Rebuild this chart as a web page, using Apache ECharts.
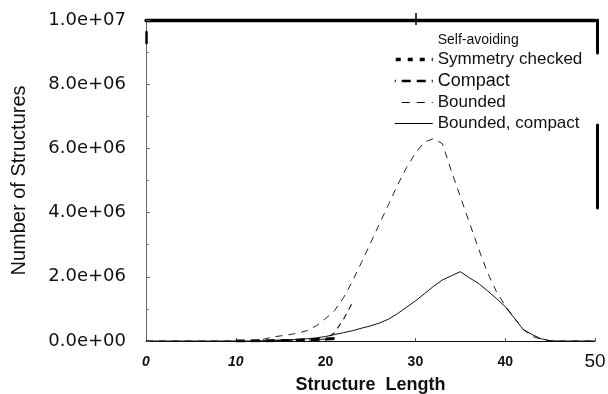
<!DOCTYPE html>
<html><head><meta charset="utf-8">
<script src="https://cdn.jsdelivr.net/npm/echarts@6/dist/echarts.min.js"></script>
<style>html,body{margin:0;padding:0;background:#fff}#c{width:608px;height:394px}</style>
</head><body><div id="c"></div>
<script>
// Structure length (x)
const lengths = [0,1,2,3,4,5,6,7,8,9,10,11,12,13,14,15,16,17,18,19,20,21,22,23,24,25,26,27,28,29,30,31,32,33,34,35,36,37,38,39,40,41,42,43,44,45,46,47,48,49,50];
// Number of structures, in millions (null = not drawn)
const selfAvoiding = [];
const symmetryChecked = [null,null,null,null,null,null,null,null,null,null,null,null,0,0.005,0.01,0.01,0.015,0.02,0.03,0.04,0.06,0.26,0.68,1.2,null,null,null,null,null,null,null,null,null,null,null,null,null,null,null,null,null,null,null,null,null,null,null,null,null,null,null];
const compact = [null,null,null,null,null,null,null,null,null,null,0,0,0.005,0.01,0.01,0.015,0.02,0.03,0.04,0.05,0.06,0.08,null,null,null,null,null,null,null,null,null,null,null,null,null,null,null,null,null,null,null,null,null,null,null,null,null,null,null,null,null];
const bounded = [0,0,0,0,0,0,0,0,0,0,0,0,0,0.05,0.12,0.16,0.2,0.25,0.33,0.48,0.7,0.95,1.35,1.87,2.45,3.05,3.65,4.25,4.85,5.4,5.85,6.2,6.3,6.15,5.3,4.5,3.7,2.9,2.15,1.55,1.1,0.72,0.36,0.15,0.05,0.01,0,0,0,0,0];
const boundedCompact = [0,0,0,0,0,0,0,0,0,0,0,0,0,0.01,0.02,0.03,0.04,0.05,0.07,0.1,0.14,0.2,0.26,0.32,0.4,0.47,0.56,0.68,0.85,1.05,1.25,1.47,1.7,1.9,2.03,2.16,1.97,1.8,1.57,1.33,1.07,0.72,0.36,0.2,0.07,0.01,0,0,0,0,0];
// Tick labels
const xTickValues = [0,10,20,30,40,50];
const xTickLabels = ['0','10','20','30','40','50'];
const yTickValues = [0,2,4,6,8,10];
const yTickLabels = ['0.0e+00','2.0e+06','4.0e+06','6.0e+06','8.0e+06','1.0e+07'];
const seriesNames = ['Self-avoiding','Symmetry checked','Compact','Bounded','Bounded, compact'];

function pairs(arr){
  const out=[];
  arr.forEach((v,i)=>{ if(v!==null && v!==undefined) out.push([lengths[i], v]); });
  return out;
}

const chart = echarts.init(document.getElementById('c'), null, {renderer:'canvas'});
const F = 'Liberation Sans, Arial, sans-serif';
const rich = {
  s0:{fontFamily:F,fontSize:14,fontStyle:'italic',fontWeight:'bold',color:'#111',lineHeight:20},
  s1:{fontFamily:F,fontSize:14,fontStyle:'italic',fontWeight:'bold',color:'#111',lineHeight:20},
  s2:{fontFamily:F,fontSize:14,fontWeight:'bold',color:'#111',lineHeight:20},
  s3:{fontFamily:F,fontSize:14,fontWeight:'bold',color:'#111',lineHeight:20},
  s4:{fontFamily:F,fontSize:14,fontWeight:'bold',color:'#111',lineHeight:20},
  s5:{fontFamily:F,fontSize:19,color:'#111',lineHeight:20}
};
const noSplit = {show:false};
const gridRect = {left:146,right:13,top:20,bottom:53,containLabel:false,outerBoundsMode:'none'};
const option = {
  animation:false,
  backgroundColor:'#fff',
  grid:[Object.assign({},gridRect), Object.assign({},gridRect)],
  legend:{
    orient:'vertical', left:393, top:33, padding:0, itemWidth:38, itemHeight:16, itemGap:4,
    selectedMode:false,
    itemStyle:{opacity:0},
    textStyle:{color:'#111',fontFamily:F,fontSize:17},
    data:[
      {name:seriesNames[0], itemStyle:{opacity:0}, lineStyle:{opacity:0}, textStyle:{fontSize:14}},
      {name:seriesNames[1], textStyle:{fontSize:17}, lineStyle:{color:'#000',width:3.5,type:[5,7]}},
      {name:seriesNames[2], textStyle:{fontSize:18}, lineStyle:{color:'#000',width:2.5,type:[9,6]}},
      {name:seriesNames[3], textStyle:{fontSize:17}, lineStyle:{color:'#000',width:1,type:[8,7]}},
      {name:seriesNames[4], textStyle:{fontSize:17}, lineStyle:{color:'#000',width:1,type:'solid'}}
    ]
  },
  xAxis:[
    {type:'value',gridIndex:0,position:'bottom',min:0,max:50,interval:10,
     name:'Structure  Length',nameLocation:'middle',nameGap:34,
     nameTextStyle:{fontFamily:F,fontSize:18,fontWeight:'bold',color:'#111'},
     axisLine:{show:true,onZero:false,lineStyle:{color:'#111',width:1}},
     axisTick:{show:true,inside:true,length:3,lineStyle:{color:'#555'}},
     axisLabel:{margin:11,formatter:v=>{const i=xTickValues.indexOf(v);return '{s'+i+'|'+xTickLabels[i]+'}';},rich:rich},
     splitLine:noSplit},
    {type:'value',gridIndex:0,position:'top',min:0,max:50,
     axisLine:{show:true,onZero:false,lineStyle:{color:'#000',width:3.3}},
     axisTick:{show:true,inside:true,length:5,customValues:[30],lineStyle:{color:'#000',width:1.5}},
     axisLabel:{show:false},splitLine:noSplit},
    {type:'value',gridIndex:1,position:'top',min:0,max:50,
     axisLine:{show:false,onZero:false},
     axisTick:{show:true,inside:false,length:7,customValues:[30],lineStyle:{color:'#000',width:1.5}},
     axisLabel:{show:false},splitLine:noSplit}
  ],
  yAxis:[
    {type:'value',gridIndex:0,position:'left',min:0,max:10,interval:2,
     name:'Number of Structures',nameLocation:'middle',nameGap:117,nameRotate:90,
     nameTextStyle:{fontFamily:F,fontSize:20,color:'#111'},
     axisLine:{show:true,onZero:false,lineStyle:{color:'#666',width:1}},
     axisTick:{show:true,inside:true,length:4,lineStyle:{color:'#666'}},
     minorTick:{show:true,splitNumber:2,length:3,lineStyle:{color:'#888'}},
     axisLabel:{margin:20,fontFamily:'DejaVu Sans',fontSize:18,color:'#111',
       formatter:v=>yTickLabels[yTickValues.indexOf(v)]},
     splitLine:noSplit},
    {type:'value',gridIndex:0,position:'right',min:0,max:10,offset:2,
     axisLine:{show:true,onZero:false,lineStyle:{color:'#000',width:3,type:[83,72,33,133],dashOffset:188}},
     axisTick:{show:false},axisLabel:{show:false},splitLine:noSplit},
    {type:'value',gridIndex:1,position:'left',min:0,max:10,
     axisLine:{show:true,onZero:false,lineStyle:{color:'#000',width:2.5,type:[11,310],dashOffset:23}},
     axisTick:{show:false},axisLabel:{show:false},splitLine:noSplit}
  ],
  series:[
    {name:seriesNames[0],type:'line',symbol:'none',data:pairs(selfAvoiding),lineStyle:{color:'#000',width:1}},
    {name:seriesNames[1],type:'line',symbol:'none',data:pairs(symmetryChecked),color:'#000',
     lineStyle:{color:'#222',width:1.2,type:[6,5]}},
    {name:seriesNames[2],type:'line',symbol:'none',data:pairs(compact),color:'#000',
     lineStyle:{color:'#000',width:3,type:[9,6]}},
    {name:seriesNames[3],type:'line',symbol:'none',data:pairs(bounded),color:'#222',
     lineStyle:{color:'#222',width:1,type:[7,6]}},
    {name:seriesNames[4],type:'line',symbol:'none',data:pairs(boundedCompact),color:'#111',z:5,
     lineStyle:{color:'#111',width:1}}
  ]
};
chart.setOption(option);
</script></body></html>
